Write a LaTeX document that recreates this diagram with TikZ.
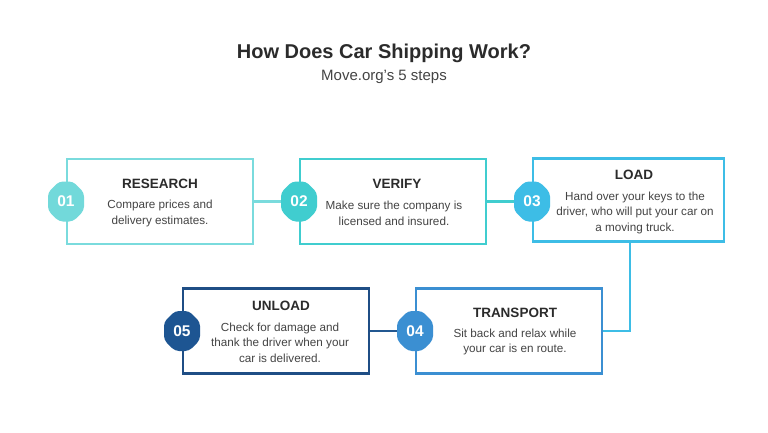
\documentclass[tikz,border=0pt]{standalone}
\usepackage{fontspec}
\setmainfont{Liberation Sans}
\definecolor{cA}{HTML}{7ADBDD}
\definecolor{cAb}{HTML}{72D9DA}
\definecolor{cB}{HTML}{40CDCF}
\definecolor{cC}{HTML}{3DBDE6}
\definecolor{cD}{HTML}{3B8FD2}
\definecolor{cE}{HTML}{1F4E85}
\definecolor{cEb}{HTML}{1D5592}
\definecolor{headc}{HTML}{2B2B2B}
\definecolor{bodyc}{HTML}{444444}
\tikzset{
  stepbox/.style={draw, line width=2.2pt, fill=white, minimum width=186pt, minimum height=85pt, inner sep=0pt},
  badgetext/.style={text=white, font=\bfseries\fontsize{15.5}{15.5}\selectfont, minimum width=36pt, minimum height=40pt, inner sep=0pt},
  headtext/.style={text=headc, font=\bfseries\fontsize{13.5}{13.5}\selectfont, inner sep=0pt},
  bodytext/.style={text=bodyc, font=\fontsize{11.7}{15.5}\selectfont, align=center, inner sep=0pt},
  link/.style={line width=2.2pt}
}
\newcommand\badgeshape[2]{%
  \fill[#2, rounded corners=4pt, shift={#1}] (-18,-9) -- (-18,9) -- (-7,20) -- (7,20) -- (18,9) -- (18,-9) -- (7,-20) -- (-7,-20) -- cycle;}
\begin{document}
\begin{tikzpicture}[x=1pt,y=-1pt]
\useasboundingbox[fill=white] (0,0) rectangle (768,432);
% title
\node[text=headc, font=\bfseries\fontsize{20}{20}\selectfont, inner sep=0pt] (title) at (384,53) {How Does Car Shipping Work?};
\node[text=bodyc, font=\fontsize{15}{15}\selectfont, inner sep=0pt] (sub) at (384,77) {Move.org's 5 steps};
% boxes
\node[stepbox, draw=cA] (box1) at (160,201.5) {};
\node[stepbox, draw=cB] (box2) at (393,201.5) {};
\node[stepbox, draw=cC, minimum width=191pt, minimum height=83pt] (box3) at (628.5,200) {};
\node[stepbox, draw=cD] (box4) at (509,331) {};
\node[stepbox, draw=cE] (box5) at (276,331) {};
% connectors
\coordinate (turn) at (630,331);
\node[badgetext] (b1) at (66,201.5) {};
\node[badgetext] (b2) at (299,201.5) {};
\node[badgetext] (b3) at (532,201.5) {};
\node[badgetext] (b4) at (415,331) {};
\node[badgetext] (b5) at (182,331) {};
\draw[link, cA] (box1.east) -- (b2.west);
\draw[link, cB] (box2.east) -- (b3.west);
\draw[link, cC] (box3.south -| turn) |- (box4.east);
\draw[link, cE!85!cD] (box5.east) -- (b4.west);
% badges
\badgeshape{(b1)}{cAb}
\badgeshape{(b2)}{cB}
\badgeshape{(b3)}{cC}
\badgeshape{(b4)}{cD}
\badgeshape{(b5)}{cEb}
\node[badgetext] at (b1) {01};
\node[badgetext] at (b2) {02};
\node[badgetext] at (b3) {03};
\node[badgetext] at (b4) {04};
\node[badgetext] at (b5) {05};
% texts
\node[headtext] (h1) at (160,184) {RESEARCH};
\node[bodytext] (t1) at (160,213.5) {Compare prices and\\delivery estimates.};
\node[headtext] (h2) at (397,184) {VERIFY};
\node[bodytext] (t2) at (394,213.5) {Make sure the company is\\licensed and insured.};
\node[headtext] (h3) at (634,175) {LOAD};
\node[bodytext] (t3) at (635,212.5) {Hand over your keys to the\\driver, who will put your car on\\a moving truck.};
\node[headtext] (h4) at (515,313) {TRANSPORT};
\node[bodytext] (t4) at (515,342) {Sit back and relax while\\your car is en route.};
\node[headtext] (h5) at (281,306) {UNLOAD};
\node[bodytext] (t5) at (280,342.5) {Check for damage and\\thank the driver when your\\car is delivered.};
\end{tikzpicture}
\end{document}
